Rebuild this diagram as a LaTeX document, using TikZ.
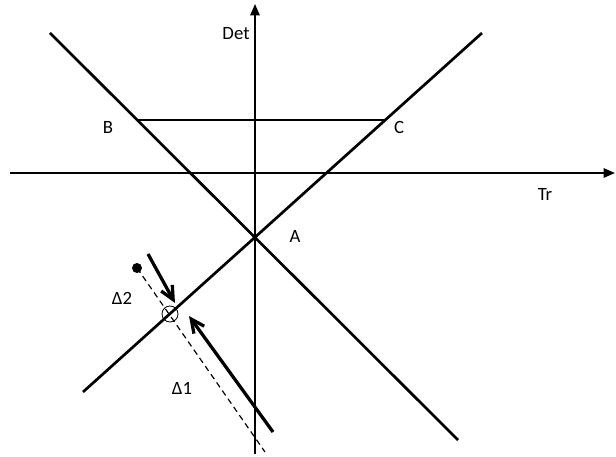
\documentclass[tikz,border=0pt]{standalone}
\usepackage{fontspec}
\setmainfont{Carlito}
\usetikzlibrary{arrows.meta,positioning,calc}

\begin{document}
\begin{tikzpicture}[x=0.03cm,y=-0.03cm,
    axis/.style={-{Triangle[length=3.4mm,width=2.8mm]},line width=1.5pt},
    bound/.style={line width=2.3pt},
    push/.style={-{Straight Barb[length=4mm,width=3.8mm]},line width=2.8pt},
    guide/.style={dash pattern=on 5pt off 3.5pt,line width=1pt},
    lbl/.style={font=\fontsize{16}{19}\selectfont,inner sep=1pt},
    dot/.style={circle,fill=black,inner sep=0pt,minimum size=0.3cm},
    ring/.style={circle,draw,line width=0.7pt,inner sep=0pt,minimum size=0.48cm}]
    \useasboundingbox (0,0) rectangle (616,457);
    % axes
    \coordinate (detlo) at (255,454); \coordinate (dethi) at (255,4);
    \coordinate (trlo) at (10,173); \coordinate (trhi) at (615,173);
    \draw[axis] (detlo)--(dethi); \draw[axis] (trlo)--(trhi);
    \node[lbl] (det) at (236,34) {Det};
    \node[lbl] (tr) at (545,194) {Tr};
    % boundary lines
    \coordinate (A) at (255,237);
    \coordinate (B) at (137,120); \coordinate (C) at (384,120);
    \coordinate (l1a) at (50,33); \coordinate (l1b) at (458,440);
    \coordinate (l2a) at (83,392); \coordinate (l2b) at (482,33);
    \draw[bound] (l1a)--(l1b); \draw[bound] (l2a)--(l2b);
    \draw[bound] (B)--(C);
    \node[lbl] (Alab) at (295,236) {A};
    \node[lbl] (Blab) at (108,127) {B};
    \node[lbl] (Clab) at (399,127) {C};
    % path
    \node[dot] (start) at (137,268) {};
    \node[ring] (hit) at (170,314) {};
    \coordinate (gend) at (265,452);
    \draw[guide] (start.center)--(gend);
    \coordinate (p2a) at (148,254); \coordinate (p2b) at (175,303);
    \coordinate (p1a) at (273,432); \coordinate (p1b) at (189,316);
    \draw[push] (p2a)--(p2b); \draw[push] (p1a)--(p1b);
    \node[lbl] (d2) at (122,298) {Δ2};
    \node[lbl] (d1) at (182,388) {Δ1};
\end{tikzpicture}
\end{document}
